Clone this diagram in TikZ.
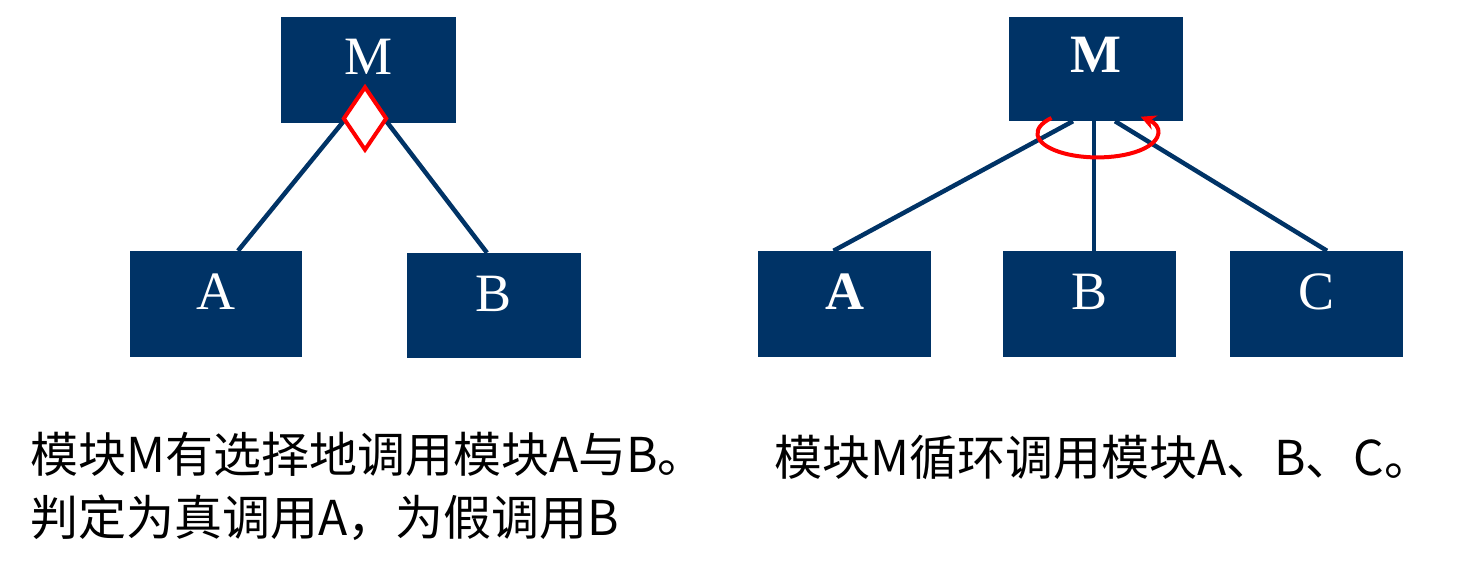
\documentclass[tikz,border=0pt]{standalone}
\usepackage{fontspec}
\setmainfont{Liberation Serif}
\newfontfamily\cjk{Noto Sans CJK SC}
\usetikzlibrary{shapes.geometric,calc,arrows.meta}
\definecolor{navy}{RGB}{0,51,102}
\tikzset{
  modbox/.style={fill=navy, inner sep=0pt},
  boxtext/.style={text=white, inner sep=0pt, font=\fontsize{54}{58}\selectfont},
  link/.style={draw=navy, line width=4.5pt},
  caption/.style={anchor=west, inner sep=0pt, font=\cjk\fontsize{48}{63}\selectfont, align=left},
}
\begin{document}
\begin{tikzpicture}[x=1pt,y=-1pt]
\useasboundingbox (0,0) rectangle (1460,567);
% left diagram
\node[modbox, minimum width=175pt, minimum height=106pt] (lM) at (368.5,70) {};
\node[modbox, minimum width=172pt, minimum height=106pt] (lA) at (216,304) {};
\node[modbox, minimum width=174pt, minimum height=105pt] (lB) at (494,305.5) {};
\node[boxtext] (lMt) at ($(lM.center)+(0,-13)$) {M};
\node[boxtext] (lAt) at ($(lA.center)+(0,-12)$) {A};
\node[boxtext] (lBt) at ($(lB.center)+(0,-12)$) {B};
\coordinate (dc) at (365,118.5);
\draw[link] ($(lA.north)+(22,0)$) -- ($(dc)+(-20,1)$);
\draw[link] ($(lB.north)+(-7,0)$) -- ($(dc)+(20,1)$);
\node[diamond, draw=red, fill=white, line width=4pt, inner sep=0pt, minimum width=44pt, minimum height=64pt] (dia) at (dc) {};
% right diagram
\node[modbox, minimum width=174pt, minimum height=104pt] (rM) at (1096,69) {};
\node[modbox, minimum width=173pt, minimum height=106pt] (rA) at (844.5,304) {};
\node[modbox, minimum width=173pt, minimum height=106pt] (rB) at (1089.5,304) {};
\node[modbox, minimum width=173pt, minimum height=106pt] (rC) at (1316.5,304) {};
\node[boxtext, font=\fontsize{54}{58}\selectfont\bfseries] (rMt) at ($(rM.center)+(0,-14)$) {M};
\node[boxtext, font=\fontsize{54}{58}\selectfont\bfseries] (rAt) at ($(rA.center)+(0,-12)$) {A};
\node[boxtext] (rBt) at ($(rB.center)+(0,-12)$) {B};
\node[boxtext] (rCt) at ($(rC.center)+(0,-12)$) {C};
\draw[link] ($(rA.north)+(-11,0)$) -- ($(rM.south)+(-23,0)$);
\draw[link] ($(rB.north)+(4.5,0)$) -- ($(rM.south)+(-2,0)$);
\draw[link] ($(rC.north)+(10.5,0)$) -- ($(rM.south)+(19,0)$);
\coordinate (loopc) at (1097,133);
\draw[red, line width=4pt, -{Stealth[length=15pt,width=15pt]}] ($(loopc)+(-45.5,-15)$) arc[start angle=220, end angle=-44, x radius=60, y radius=24];
% captions
\node[caption] (t1) at (30,486) {模块M有选择地调用模块A与B。\\判定为真调用A，为假调用B};
\node[caption] (t2) at (774,457) {模块M循环调用模块A、B、C。};
\end{tikzpicture}
\end{document}
